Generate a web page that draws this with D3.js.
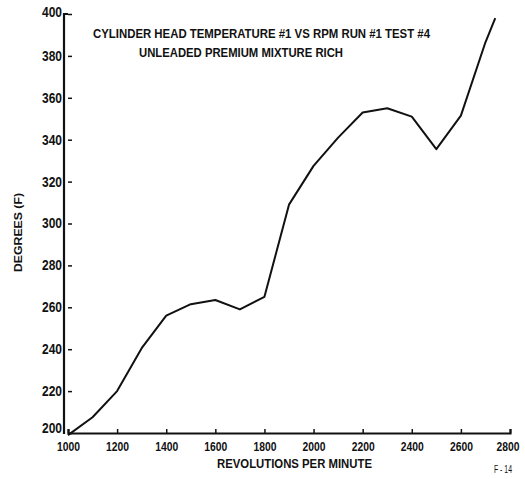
<!DOCTYPE html>
<html><head><meta charset="utf-8">
<script src="https://cdn.jsdelivr.net/npm/d3@7"></script>
<style>
body{margin:0;background:#fff;}
text{font-family:"Liberation Sans",Arial,sans-serif;font-weight:bold;fill:#111;}
</style></head><body>
<svg id="c" width="525" height="479"></svg>
<script>
const rpm = [1000,1100,1200,1300,1400,1500,1600,1700,1800,1900,2000,2100,2200,2300,2400,2500,2600,2700,2740];
const temp = [199,207.5,220,240.5,256,261.5,263.5,259,265,309,327.5,341,353,355,351,335.5,351.5,386.5,398];
const xTicks = [1000,1200,1400,1600,1800,2000,2200,2400,2600,2800];
const yTicks = [200,220,240,260,280,300,320,340,360,380,400];
const titleLines = ["CYLINDER HEAD TEMPERATURE #1 VS RPM RUN #1 TEST #4","UNLEADED PREMIUM MIXTURE RICH"];
const xLabel = "REVOLUTIONS PER MINUTE", yLabel = "DEGREES (F)", figLabel = "F - 14";

const svg = d3.select("#c");
const x = d3.scaleLinear().domain([1000,2800]).range([68,510]);
const y = d3.scaleLinear().domain([200,400]).range([433,14]);

const xa = svg.append("g").attr("transform","translate(0,"+y(200)+")")
  .call(d3.axisBottom(x).tickValues(xTicks).tickSize(-4).tickPadding(9).tickFormat(d3.format("d")));
const ya = svg.append("g").attr("transform","translate("+x(1000)+",0)")
  .call(d3.axisLeft(y).tickValues(yTicks).tickSize(-4).tickPadding(6).tickFormat(d3.format("d")));
[xa,ya].forEach(a=>{
  a.select(".domain").attr("stroke","#111").attr("stroke-width",2.2);
  a.selectAll(".tick line").attr("stroke","#111").attr("stroke-width",1.5);
  a.selectAll(".tick text").style("font-size","14px").attr("fill","#111")
    .attr("textLength",d=>d>=1000?23:20).attr("lengthAdjust","spacingAndGlyphs");
});
xa.selectAll(".tick text").style("font-size","13px");
ya.selectAll(".tick text").filter(d=>d===200).attr("dy","-0.05em");
ya.selectAll(".tick text").filter(d=>d===400).attr("dy","0.2em");
ya.select(".domain").attr("d","M0,"+y(400)+"H-4V"+(y(200)+1));
xa.selectAll(".tick text").attr("dy","0.71em");
xa.selectAll(".tick text").filter(d=>d===2800).attr("text-anchor","end").attr("x",9);

svg.append("path").datum(rpm.map((r,i)=>[r,temp[i]]))
  .attr("fill","none").attr("stroke","#111").attr("stroke-width",2)
  .attr("stroke-linejoin","round")
  .attr("d",d3.line().x(d=>x(d[0])).y(d=>y(d[1])));

function t(txt,x0,y0,size,len){
  return svg.append("text").attr("x",x0).attr("y",y0).style("font-size",size+"px")
    .attr("textLength",len).attr("lengthAdjust","spacingAndGlyphs").text(txt);
}
t(titleLines[0],93,38,12,337);
t(titleLines[1],139,57,12,204);
t(xLabel,217,468,13,155);
svg.append("text").attr("transform","translate(22,272) rotate(-90)").style("font-size","11px")
  .attr("textLength",79).attr("lengthAdjust","spacingAndGlyphs").text(yLabel);
t(figLabel,494,473,11,18).style("font-weight","normal");
</script></body></html>
